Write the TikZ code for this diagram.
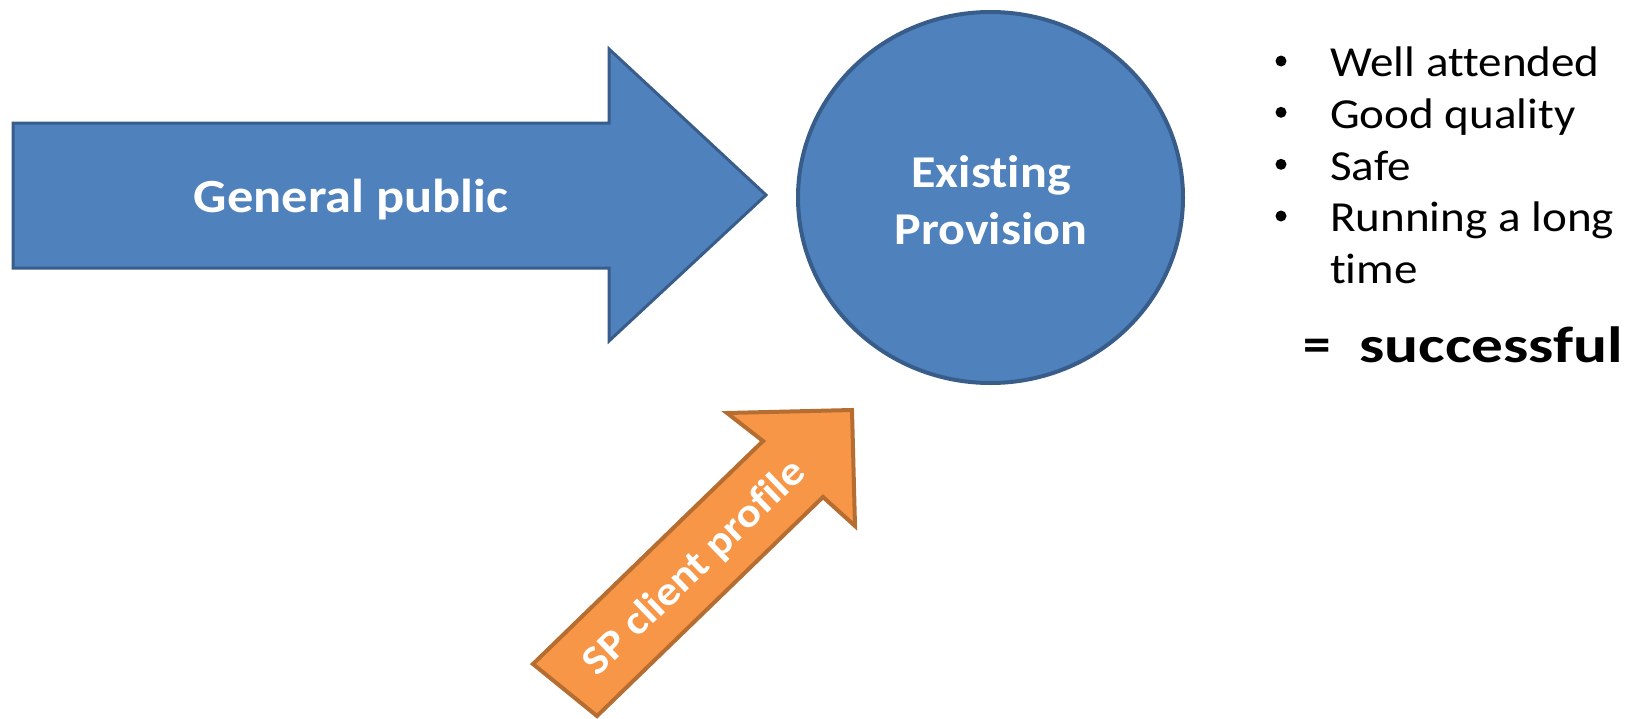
\documentclass[tikz,border=0pt]{standalone}
\usepackage{fontspec}
\setmainfont{Carlito}[FakeStretch=1.1, Ligatures=NoCommon]
\usetikzlibrary{shapes.geometric}
\definecolor{bfill}{HTML}{4F81BD}
\definecolor{bline}{HTML}{385D8A}
\definecolor{ofill}{HTML}{F79646}
\definecolor{oline}{HTML}{B66D31}
\tikzset{
  bluebody/.style={fill=bfill, draw=bline, line width=3pt, line join=miter},
  orangebody/.style={fill=ofill, draw=oline, line width=4pt, line join=miter},
  whitelabel/.style={text=white, font=\bfseries, inner sep=0pt},
  listtext/.style={text=black, inner sep=0pt, font=\fontsize{42.8}{50}\selectfont},
  bulletdot/.style={circle, fill=black, inner sep=0pt, minimum size=11pt},
}
\begin{document}
\begin{tikzpicture}[x=1pt, y=-1pt]
\useasboundingbox (0,0) rectangle (1628,718);
% blue arrow
\draw[bluebody] (13,123) -- (609,123) -- (609,49) -- (766,195) -- (609,341) -- (609,268) -- (13,268) -- cycle;
\node[whitelabel, anchor=base, font=\bfseries\fontsize{47.6}{57}\selectfont] (gp) at (351,212) {General public};
% circle
\node[ellipse, bluebody, line width=4pt, minimum width=385pt, minimum height=371pt, inner sep=0pt] (prov) at (990.5,197.5) {};
\node[whitelabel, align=center, anchor=base, font=\bfseries\fontsize{45.5}{56.7}\selectfont] (provtext) at (991,244) {Existing\\Provision};
% orange arrow
\draw[orangebody] (533,664) -- (763,441) -- (727,413) -- (852,410) -- (855,526) -- (823,497) -- (597,716) -- cycle;
\node[whitelabel, rotate=44, font=\bfseries\fontsize{41}{49}\selectfont] (sp) at (695,568) {SP client profile};
% list
\node[bulletdot] (b1) at (1281,61) {};
\node[bulletdot] (b2) at (1281,112.3) {};
\node[bulletdot] (b3) at (1281,164.3) {};
\node[bulletdot] (b4) at (1281,216) {};
\node[listtext, anchor=base west] (t1) at (1330,76.7) {Well attended};
\node[listtext, anchor=base west] (t2) at (1330,128) {Good quality};
\node[listtext, anchor=base west] (t3) at (1330,180) {Safe};
\node[listtext, anchor=base west] (t4) at (1330,231.7) {Running a long};
\node[listtext, anchor=base west] (t5) at (1330,283) {time};
\node[listtext, anchor=base, font=\bfseries\fontsize{50}{60}\selectfont] (eq) at (1317.5,361) {=};
\node[listtext, anchor=base west, font=\bfseries\fontsize{51}{60}\selectfont] (succ) at (1359,362) {\scalebox{1.13}[1]{successful}};
\end{tikzpicture}
\end{document}
